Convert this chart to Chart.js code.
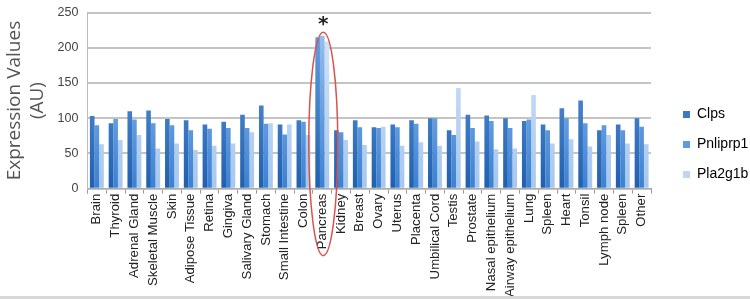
<!DOCTYPE html>
<html>
<head>
<meta charset="utf-8">
<script src="https://cdn.jsdelivr.net/npm/chart.js@4/dist/chart.umd.min.js"></script>
<style>
  html, body { margin: 0; padding: 0; background: #fff; }
  #wrap { width: 750px; height: 299px; position: relative; overflow: hidden; border-bottom: 3px solid #d8d8d8; box-sizing: border-box; }
  #chart { position: absolute; left: 0; top: -4px; }
</style>
</head>
<body>
<div id="wrap"><canvas id="chart" width="750" height="303"></canvas></div>
<script>
// Tissue expression chart
const tissues = ['Brain', 'Thyroid', 'Adrenal Gland', 'Skeletal Muscle', 'Skin', 'Adipose Tissue', 'Retina',
  'Gingiva', 'Salivary Gland', 'Stomach', 'Small Intestine', 'Colon', 'Pancreas', 'Kidney', 'Breast', 'Ovary',
  'Uterus', 'Placenta', 'Umbilical Cord', 'Testis', 'Prostate', 'Nasal epithelium', 'Airway epithelium', 'Lung',
  'Spleen', 'Heart', 'Tonsil', 'Lymph node', 'Spleen', 'Other'];

const clps     = [103, 93, 110, 111, 99, 97, 91, 95, 105, 118, 91, 97, 215, 83, 97, 87, 91, 97, 100, 83, 105, 104, 100, 96, 91, 114, 125, 83, 91, 100];
const pnliprp1 = [90, 99, 98, 93, 90, 83, 85, 86, 86, 92, 77, 95, 217, 80, 87, 86, 87, 92, 100, 76, 86, 96, 86, 98, 83, 100, 93, 90, 83, 88];
const pla2g1b  = [63, 69, 76, 57, 64, 55, 61, 64, 80, 93, 91, 76, 209, 69, 62, 88, 61, 66, 61, 143, 67, 56, 57, 133, 64, 70, 60, 76, 64, 63];

const yTicks = [0, 50, 100, 150, 200, 250];
const highlightIndex = 12; // Pancreas

// vertical gradient, darker at the bottom like the Excel bars
function barGradient(bottom, top) {
  return (context) => {
    const chart = context.chart;
    const area = chart.chartArea;
    if (!area) return bottom;
    const g = chart.ctx.createLinearGradient(0, area.bottom, 0, area.top);
    g.addColorStop(0, bottom);
    g.addColorStop(1, top);
    return g;
  };
}

// red ellipse + asterisk around the highlighted category
const highlightPlugin = {
  id: 'highlight',
  afterDatasetsDraw(chart) {
    const { ctx, scales } = chart;
    const cx = scales.x.getPixelForValue(highlightIndex) + 1;
    const top = scales.y.getPixelForValue(222);
    const bottom = scales.y.getPixelForValue(0) + 67;
    ctx.save();
    ctx.strokeStyle = '#d9534f';
    ctx.lineWidth = 1.5;
    ctx.beginPath();
    ctx.ellipse(cx, (top + bottom) / 2, 14.5, (bottom - top) / 2, 0, 0, Math.PI * 2);
    ctx.stroke();
    ctx.fillStyle = '#222';
    ctx.font = 'bold 20px "DejaVu Sans", sans-serif';
    ctx.textAlign = 'center';
    ctx.textBaseline = 'middle';
    ctx.fillText('*', cx, top - 7);
    ctx.restore();
  }
};

// legend box is wider than its items, items sit towards the right
const legendPlacement = {
  id: 'legendPlacement',
  beforeInit(chart) {
    const fit = chart.legend.fit;
    chart.legend.fit = function () {
      fit.call(this);
      this.width = 99;
    };
  },
  afterLayout(chart) {
    chart.legend.left += 16;
  }
};

const ctx = document.getElementById('chart');
new Chart(ctx, {
  type: 'bar',
  data: {
    labels: tissues,
    datasets: [
      { label: 'Clps', data: clps, backgroundColor: barGradient('#1f5fae', '#6ea6e8') },
      { label: 'Pnliprp1', data: pnliprp1, backgroundColor: barGradient('#3a80d2', '#a3c8f2') },
      { label: 'Pla2g1b', data: pla2g1b, backgroundColor: barGradient('#a6c7ee', '#d8e7f9') }
    ]
  },
  options: {
    responsive: false,
    animation: false,
    layout: { padding: { top: -4, right: 0, left: 3, bottom: 2 } },
    datasets: {
      bar: { categoryPercentage: 0.74, barPercentage: 1.0 }
    },
    plugins: {
      legend: {
        position: 'right',
        labels: {
          boxWidth: 7,
          boxHeight: 7,
          padding: 16,
          color: '#333',
          font: { family: '"Liberation Sans", sans-serif', size: 14 },
          generateLabels: (chart) => chart.data.datasets.map((ds, i) => ({
            text: ds.label,
            fillStyle: ['#3a78c8', '#5b9be2', '#bcd6f3'][i],
            strokeStyle: 'transparent',
            lineWidth: 0,
            datasetIndex: i
          }))
        }
      },
      tooltip: { enabled: false }
    },
    scales: {
      x: {
        grid: { display: true, offset: true, drawOnChartArea: false, tickLength: 5, color: '#999' },
        border: { color: '#aaa' },
        ticks: {
          minRotation: 90,
          maxRotation: 90,
          autoSkip: false,
          padding: 0,
          color: '#222',
          font: { family: '"Liberation Sans", sans-serif', size: 13.2 }
        }
      },
      y: {
        min: 0,
        max: 250,
        afterBuildTicks: (axis) => { axis.ticks = yTicks.map(v => ({ value: v })); },
        grid: { color: '#c4c4c4', lineWidth: 2, drawTicks: false },
        border: { display: true, color: '#bbb', width: 1 },
        ticks: {
          padding: 9,
          color: '#444',
          font: { family: '"Liberation Sans", sans-serif', size: 12.5 }
        },
        title: {
          display: true,
          text: ['Expression Values', '(AU)'],
          color: '#555',
          padding: { top: 0, bottom: 0 },
          font: { family: '"Open Sans", sans-serif', size: 19, lineHeight: 1.2 }
        }
      }
    }
  },
  plugins: [highlightPlugin, legendPlacement]
});
</script>
</body>
</html>
